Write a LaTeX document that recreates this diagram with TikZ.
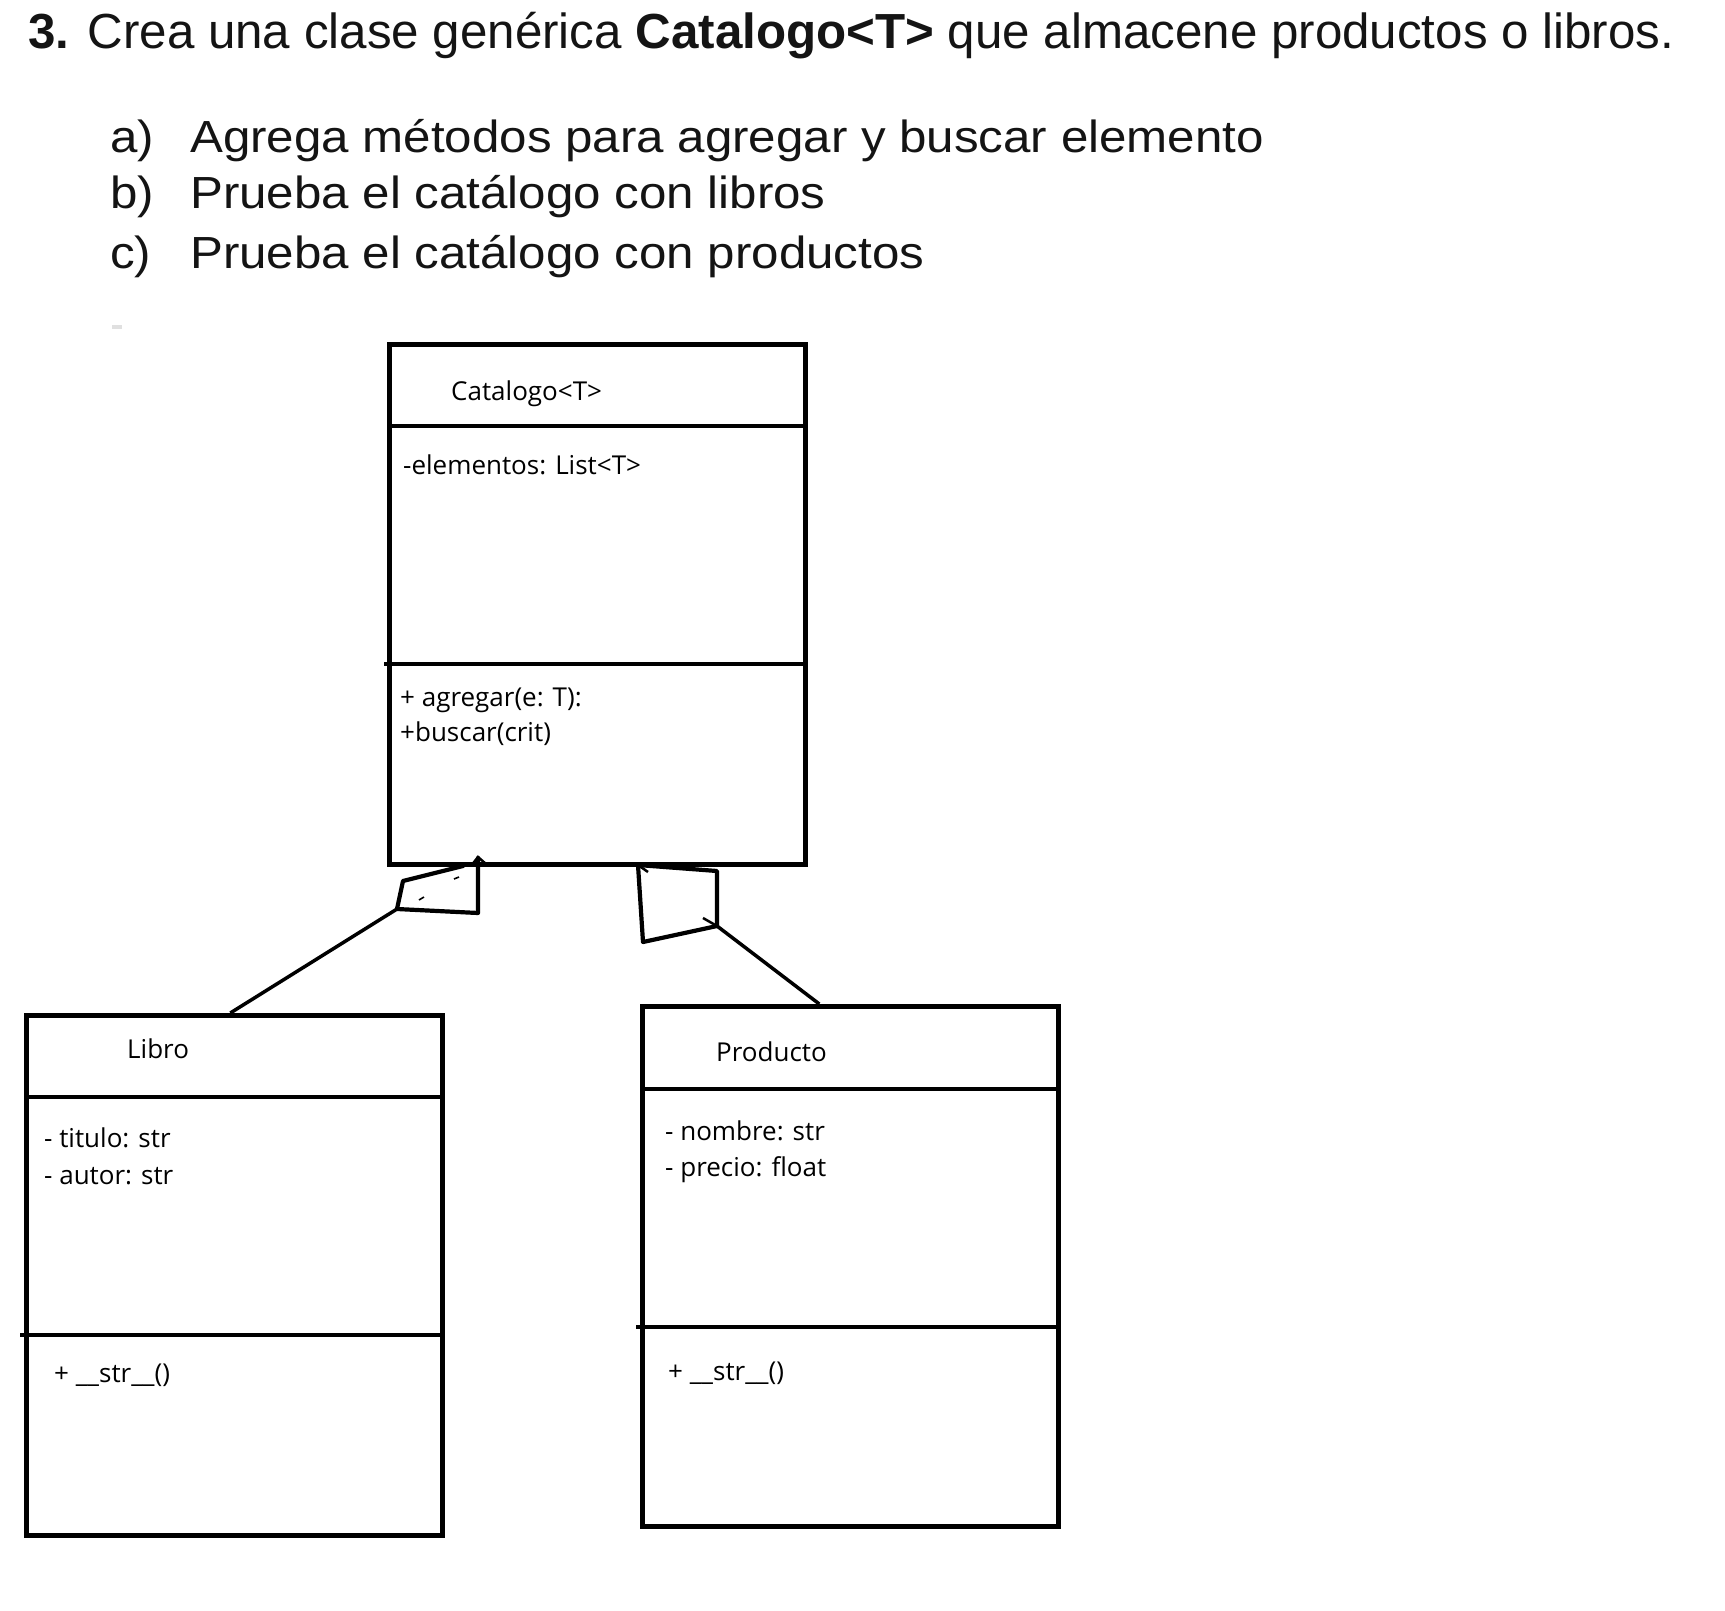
\documentclass[tikz,border=0pt]{standalone}
\usepackage{fontspec}
\setmainfont{Liberation Sans}
\newfontfamily\listfont[FakeStretch=1.095]{Liberation Sans}
\newfontfamily\boxfont{Open Sans}
\begin{document}
\begin{tikzpicture}[x=1pt,y=-1pt,
  umlbox/.style={draw=black, line width=4.6pt, minimum width=416pt, minimum height=520pt, anchor=north west, inner sep=0pt},
  sep/.style={line width=4.6pt},
  conn/.style={line width=3.5pt, line join=round},
  quad/.style={line width=4.2pt, line join=round, line cap=round},
  txt/.style={anchor=base west, inner sep=0pt, font=\boxfont\fontsize{26}{32}\selectfont},
  title/.style={anchor=base west, inner sep=0pt, text=black!92},
]
\fill[white] (0,0) rectangle (1725,1611);
\useasboundingbox (0,0) rectangle (1725,1611);

% heading
\node[title, font=\fontsize{49.3}{58}\selectfont] (head) at (28,49)
  {\textbf{3.} Crea una clase genérica \textbf{Catalogo<T>} que almacene productos o libros.};
\node[title, font=\listfont\fontsize{45}{54}\selectfont] (la) at (110,152) {a)};
\node[title, font=\listfont\fontsize{45}{54}\selectfont] (ta) at (190,152) {Agrega métodos para agregar y buscar elemento};
\node[title, font=\listfont\fontsize{45}{54}\selectfont] (lb) at (110,208) {b)};
\node[title, font=\listfont\fontsize{45}{54}\selectfont] (tb) at (190,208) {Prueba el catálogo con libros};
\node[title, font=\listfont\fontsize{45}{54}\selectfont] (lc) at (110,268) {c)};
\node[title, font=\listfont\fontsize{45}{54}\selectfont] (tc) at (190,268) {Prueba el catálogo con productos};
\fill[black!12] (112,325) rectangle (122,329);

% Catalogo<T>
\node[umlbox] (cat) at (387,342) {};
\draw[sep] (387,426) -- (808,426);
\draw[sep] (384,664) -- (803,664);
\node[txt] (catn) at (451,400) {Catalogo<T>};
\node[txt] (cata) at (403,474) {-elementos: List<T>};
\node[txt] (catm1) at (400,706) {+ agregar(e: T):};
\node[txt] (catm2) at (400,741) {+buscar(crit)};

% Libro
\node[umlbox] (lib) at (24,1013) {};
\draw[sep] (24,1097) -- (445,1097);
\draw[sep] (20,1335) -- (440,1335);
\node[txt] (libn) at (127,1058) {Libro};
\node[txt] (liba1) at (44,1147) {- titulo: str};
\node[txt] (liba2) at (44,1184) {- autor: str};
\node[txt] (libm) at (54,1382) {+ \_\_str\_\_()};

% Producto
\node[umlbox] (prod) at (640,1004) {};
\draw[sep] (640,1089) -- (1060,1089);
\draw[sep] (636,1327) -- (1056,1327);
\node[txt] (prodn) at (716,1061) {Producto};
\node[txt] (proda1) at (665,1140) {- nombre: str};
\node[txt] (proda2) at (665,1176) {- precio: float};
\node[txt] (prodm) at (668,1380) {+ \_\_str\_\_()};

% generalisation Libro -> Catalogo
\coordinate (lq1) at (397,909);
\coordinate (lq2) at (403,881);
\coordinate (lq3) at (463,866);
\coordinate (lq4) at (478,913);
\coordinate (lq5) at (478,858);
\draw[conn] ([xshift=-4pt]lib.north) -- (lq1);
\draw[quad] (lq3) -- (lq2) -- (lq1) -- (lq4) -- (lq5);
\draw[line width=2.5pt] (471,866) -- (478,857) -- (486,864);
\draw[line width=1.6pt] (454,879) -- (459,877);
\draw[line width=1.6pt] (419,900) -- (424,897);

% generalisation Producto -> Catalogo
\coordinate (rq1) at (717,926);
\coordinate (rq2) at (643,942);
\coordinate (rq3) at (638,865);
\coordinate (rq4) at (717,871);
\draw[conn] ([xshift=-31pt]prod.north) -- (rq1);
\draw[quad] (rq1) -- (rq2) -- (rq3) -- (rq4) -- cycle;
\draw[line width=2.5pt] (703,918) -- (717,926);
\draw[line width=2.5pt] (638,865) -- (648,872);
\end{tikzpicture}
\end{document}
